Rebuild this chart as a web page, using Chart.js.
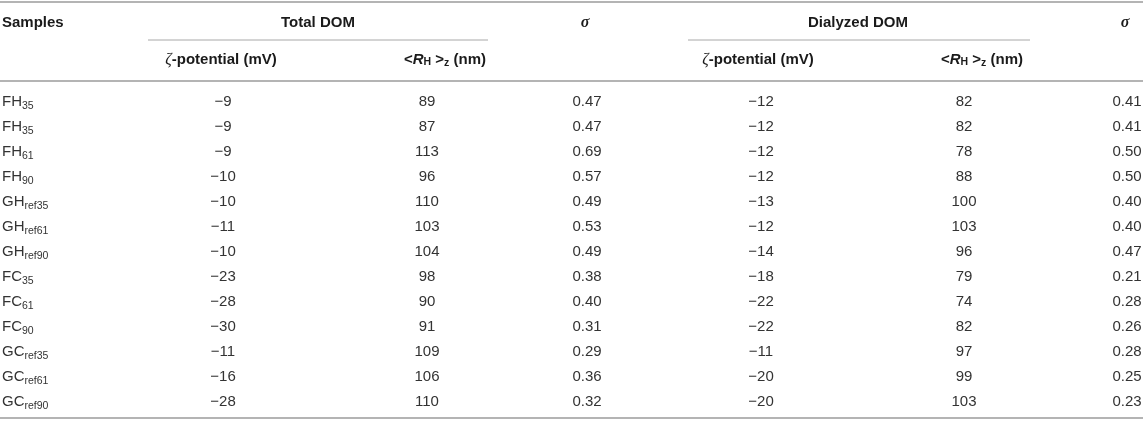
<!DOCTYPE html>
<html>
<head>
<meta charset="utf-8">
<script src="https://cdn.jsdelivr.net/npm/chart.js@4.4.0/dist/chart.umd.min.js"></script>
<style>
  html, body { margin: 0; padding: 0; background: #fff; }
  #wrap { width: 1143px; height: 444px; }
</style>
</head>
<body>
<div id="wrap"><canvas id="tableChart" width="1143" height="444"></canvas></div>
<script>
/*jshint esversion: 6 */

// table data
var sampleBase = ['FH', 'FH', 'FH', 'FH', 'GH', 'GH', 'GH', 'FC', 'FC', 'FC', 'GC', 'GC', 'GC'];
var sampleSub = ['35', '35', '61', '90', 'ref35', 'ref61', 'ref90', '35', '61', '90', 'ref35', 'ref61', 'ref90'];
var zetaTotal = [-9, -9, -9, -10, -10, -11, -10, -23, -28, -30, -11, -16, -28];
var rhTotal = [89, 87, 113, 96, 110, 103, 104, 98, 90, 91, 109, 106, 110];
var sigmaTotal = [0.47, 0.47, 0.69, 0.57, 0.49, 0.53, 0.49, 0.38, 0.40, 0.31, 0.29, 0.36, 0.32];
var zetaDial = [-12, -12, -12, -12, -13, -12, -14, -18, -22, -22, -11, -20, -20];
var rhDial = [82, 82, 78, 88, 100, 103, 96, 79, 74, 82, 97, 99, 103];
var sigmaDial = [0.41, 0.41, 0.50, 0.50, 0.40, 0.40, 0.47, 0.21, 0.28, 0.26, 0.28, 0.25, 0.23];

// layout (column anchors on the x scale)
var colX = { samples: 2, zT: 223, rT: 427, sT: 587, zD: 761, rD: 964, sD: 1127 };

var BODY = '15px "Liberation Sans", Arial, sans-serif';
var SUB = '10.5px "Liberation Sans", Arial, sans-serif';
var BOLD = 'bold 15px "Liberation Sans", Arial, sans-serif';
var BOLDSUB = 'bold 10.5px "Liberation Sans", Arial, sans-serif';
var BOLDIT = 'italic bold 15px "Liberation Sans", Arial, sans-serif';
var SIGMA = 'italic bold 16px "Liberation Serif", serif';
var ZETA = 'italic 16px "Liberation Serif", serif';
var TEXT = '#333';
var HEAD = '#1a1a1a';

function fmtZeta(v) { return '\u2212' + Math.abs(v); }
function fmtSigma(v) { return v.toFixed(2); }
function fmtInt(v) { return String(v); }

function drawRich(ctx, parts, x, y, align) {
  var w = 0;
  parts.forEach(function(p) {
    ctx.font = p.font;
    p.w = ctx.measureText(p.t).width;
    w += p.w;
  });
  var sx = x;
  if (align === 'center') sx = x - w / 2;
  if (align === 'right') sx = x - w;
  parts.forEach(function(p) {
    ctx.font = p.font;
    ctx.fillStyle = p.color || TEXT;
    ctx.fillText(p.t, sx, y + (p.dy || 0));
    sx += p.w;
  });
}

function hline(ctx, x1, x2, y, width, color) {
  ctx.save();
  ctx.strokeStyle = color;
  ctx.lineWidth = width;
  ctx.beginPath();
  ctx.moveTo(x1, y);
  ctx.lineTo(x2, y);
  ctx.stroke();
  ctx.restore();
}

function makeColumn(key, values, fmt) {
  return {
    label: key,
    data: values.map(function(v, i) { return { x: colX[key], y: i, v: v }; }),
    fmt: fmt,
    pointRadius: 0
  };
}

var datasets = [
  {
    label: 'samples',
    data: sampleBase.map(function(b, i) { return { x: colX.samples, y: i, v: b, s: sampleSub[i] }; }),
    pointRadius: 0
  },
  makeColumn('zT', zetaTotal, fmtZeta),
  makeColumn('rT', rhTotal, fmtInt),
  makeColumn('sT', sigmaTotal, fmtSigma),
  makeColumn('zD', zetaDial, fmtZeta),
  makeColumn('rD', rhDial, fmtInt),
  makeColumn('sD', sigmaDial, fmtSigma)
];

function rhHeader() {
  return [
    { t: '<', font: BOLD, color: HEAD },
    { t: 'R', font: BOLDIT, color: HEAD },
    { t: 'H', font: BOLDSUB, color: HEAD, dy: 2 },
    { t: ' >', font: BOLD, color: HEAD },
    { t: 'z', font: BOLDSUB, color: HEAD, dy: 3 },
    { t: ' (nm)', font: BOLD, color: HEAD }
  ];
}

function zetaHeader() {
  return [
    { t: '\u03B6', font: ZETA, color: HEAD },
    { t: '-potential (mV)', font: BOLD, color: HEAD }
  ];
}

var tablePlugin = {
  id: 'tableText',
  afterDatasetsDraw: function(chart) {
    var ctx = chart.ctx;
    var xs = chart.scales.x;
    ctx.save();
    ctx.textBaseline = 'middle';

    // rules
    hline(ctx, 0, 1143, 2, 2, '#b4b4b4');
    hline(ctx, xs.getPixelForValue(148), xs.getPixelForValue(488), 40, 1, '#a8a8a8');
    hline(ctx, xs.getPixelForValue(688), xs.getPixelForValue(1030), 40, 1, '#a8a8a8');
    hline(ctx, 0, 1143, 81, 2, '#b4b4b4');
    hline(ctx, 0, 1143, 418, 2, '#b4b4b4');

    // header row 1
    drawRich(ctx, [{ t: 'Samples', font: BOLD, color: HEAD }], xs.getPixelForValue(colX.samples), 23, 'left');
    drawRich(ctx, [{ t: 'Total DOM', font: BOLD, color: HEAD }], xs.getPixelForValue(318), 23, 'center');
    drawRich(ctx, [{ t: '\u03C3', font: SIGMA, color: HEAD }], xs.getPixelForValue(colX.sT - 2), 23, 'center');
    drawRich(ctx, [{ t: 'Dialyzed DOM', font: BOLD, color: HEAD }], xs.getPixelForValue(858), 23, 'center');
    drawRich(ctx, [{ t: '\u03C3', font: SIGMA, color: HEAD }], xs.getPixelForValue(colX.sD - 2), 23, 'center');

    // header row 2
    drawRich(ctx, zetaHeader(), xs.getPixelForValue(colX.zT - 2), 60, 'center');
    drawRich(ctx, rhHeader(), xs.getPixelForValue(colX.rT + 18), 60, 'center');
    drawRich(ctx, zetaHeader(), xs.getPixelForValue(colX.zD - 3), 60, 'center');
    drawRich(ctx, rhHeader(), xs.getPixelForValue(colX.rD + 18), 60, 'center');

    // body cells
    chart.data.datasets.forEach(function(ds, di) {
      var meta = chart.getDatasetMeta(di);
      meta.data.forEach(function(pt, i) {
        var d = ds.data[i];
        if (ds.label === 'samples') {
          drawRich(ctx, [
            { t: d.v, font: BODY },
            { t: d.s, font: SUB, dy: 4 }
          ], pt.x, pt.y, 'left');
        } else {
          drawRich(ctx, [{ t: ds.fmt(d.v), font: BODY }], pt.x, pt.y, 'center');
        }
      });
    });
    ctx.restore();
  }
};

new Chart(document.getElementById('tableChart').getContext('2d'), {
  type: 'scatter',
  data: { datasets: datasets },
  options: {
    responsive: false,
    animation: false,
    events: [],
    layout: { padding: { left: 0, right: 0, top: 89.5, bottom: 29.5 } },
    plugins: { legend: { display: false }, tooltip: { enabled: false } },
    scales: {
      x: { type: 'linear', min: 0, max: 1143, display: false },
      y: { type: 'linear', min: -0.5, max: 12.5, reverse: true, display: false }
    }
  },
  plugins: [tablePlugin]
});
</script>
</body>
</html>
